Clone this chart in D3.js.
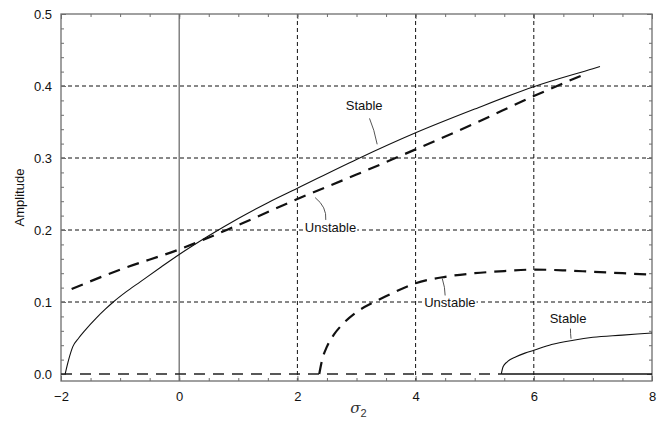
<!DOCTYPE html>
<html>
<head>
<meta charset="utf-8">
<script src="https://cdn.jsdelivr.net/npm/d3@7"></script>
<style>
  html, body { margin: 0; padding: 0; background: #fff; }
  svg { display: block; font-family: "Liberation Sans", Arial, sans-serif; }
</style>
</head>
<body>
<svg id="chart" width="671" height="424"></svg>
<script>
// Frequency-response branches: amplitude vs detuning sigma_2
const xTicks = [-2, 0, 2, 4, 6, 8];
const yTicks = [0.0, 0.1, 0.2, 0.3, 0.4, 0.5];
const xGrid = [2, 4, 6];
const yGrid = [0.1, 0.2, 0.3, 0.4];

// upper stable branch
const stableUpper = [
  [-1.93, 0], [-1.87, 0.02], [-1.8, 0.038], [-1.7, 0.05], [-1.59, 0.061],
  [-1.4, 0.078], [-1.25, 0.09], [-1.115, 0.1], [-0.9, 0.114], [-0.66, 0.128],
  [-0.3, 0.149], [0, 0.166], [0.5, 0.192], [1, 0.216], [1.5, 0.238], [2, 0.258],
  [3, 0.298], [4, 0.335], [5, 0.368], [6, 0.399], [7, 0.424], [7.12, 0.427]
];
// upper unstable branch
const unstableUpper = [
  [-1.82, 0.118], [-1, 0.145], [0, 0.173], [1, 0.207], [2, 0.243], [3, 0.277],
  [4, 0.312], [5, 0.348], [6, 0.386], [6.88, 0.417]
];
// lower unstable branch
const unstableLower = [
  [2.37, 0], [2.42, 0.02], [2.5, 0.038], [2.62, 0.055], [2.75, 0.068],
  [3, 0.086], [3.3, 0.1], [3.6, 0.112], [4, 0.126], [4.5, 0.135], [5, 0.14],
  [5.5, 0.143], [6, 0.145], [6.5, 0.144], [7, 0.142], [7.5, 0.14], [8, 0.138]
];
// lower stable branch
const stableLower = [
  [5.45, 0], [5.48, 0.01], [5.55, 0.017], [5.7, 0.024], [5.85, 0.029],
  [6, 0.033], [6.3, 0.041], [6.67, 0.047], [7, 0.051], [7.5, 0.054], [8, 0.057]
];
// trivial solution a = 0
const trivialUnstable = [[-2, 0], [5.45, 0]];
const trivialStable = [[5.45, 0], [8, 0]];

// annotation labels: text position and curved leader line, all in data units
const labels = [
  { text: "Stable",   at: [3.13, 0.372], from: [3.22, 0.355], to: [3.35, 0.319], bend: [3.3, 0.34] },
  { text: "Unstable", at: [2.56, 0.202], from: [2.48, 0.214], to: [2.3, 0.245], bend: [2.5, 0.232] },
  { text: "Unstable", at: [4.58, 0.098], from: [4.5, 0.109], to: [4.45, 0.133], bend: [4.5, 0.12] },
  { text: "Stable",   at: [6.58, 0.075], from: [6.62, 0.063], to: [6.63, 0.049], bend: [6.62, 0.056] }
];

const svg = d3.select("#chart");
const L = 61, R = 652, T = 14, B = 381;

const x = d3.scaleLinear().domain([-2, 8]).range([L, R]);
const y = d3.scaleLinear().domain([-0.0097, 0.5]).range([B, T]);

const frameColor = "#6e6e6e";

// grid
const grid = svg.append("g");
grid.selectAll(".gx").data(xGrid).join("line")
  .attr("x1", d => x(d)).attr("x2", d => x(d))
  .attr("y1", T).attr("y2", B)
  .attr("stroke", "#111").attr("stroke-width", 1).attr("stroke-dasharray", "4,3");
grid.selectAll(".gy").data(yGrid).join("line")
  .attr("x1", L).attr("x2", R)
  .attr("y1", d => y(d)).attr("y2", d => y(d))
  .attr("stroke", "#111").attr("stroke-width", 1).attr("stroke-dasharray", "4,3");

// vertical axis line at sigma_2 = 0
svg.append("line")
  .attr("x1", x(0)).attr("x2", x(0)).attr("y1", T).attr("y2", B)
  .attr("stroke", frameColor).attr("stroke-width", 1.3);

// axes with inward ticks on all four sides
const xMinor = d3.range(-2, 8.001, 0.5);
const yMinor = d3.range(0, 0.5001, 0.02);
const majorLen = 5, minorLen = 3;

function addAxis(axis, transform) {
  const g = svg.append("g").attr("transform", transform).call(axis);
  g.select(".domain").remove();
  g.selectAll("line").attr("stroke", frameColor);
  return g;
}

const fmtY = d3.format(".1f");
// bottom
addAxis(d3.axisBottom(x).tickValues(xMinor).tickSize(-minorLen).tickFormat(""), `translate(0,${B})`);
const bx = addAxis(d3.axisBottom(x).tickValues(xTicks).tickSize(-majorLen).tickPadding(11)
  .tickFormat(d => d < 0 ? "\u2212" + Math.abs(d) : d), `translate(0,${B})`);
bx.selectAll("text").attr("font-size", 13).attr("fill", "#111")
  .attr("font-family", "Liberation Sans, Arial, sans-serif");
// top
addAxis(d3.axisTop(x).tickValues(xMinor).tickSize(-minorLen).tickFormat(""), `translate(0,${T})`);
addAxis(d3.axisTop(x).tickValues(xTicks).tickSize(-majorLen).tickFormat(""), `translate(0,${T})`);
// left
addAxis(d3.axisLeft(y).tickValues(yMinor).tickSize(-minorLen).tickFormat(""), `translate(${L},0)`);
const ly = addAxis(d3.axisLeft(y).tickValues(yTicks).tickSize(-majorLen).tickPadding(9)
  .tickFormat(fmtY), `translate(${L},0)`);
ly.selectAll("text").attr("font-size", 13).attr("fill", "#111")
  .attr("font-family", "Liberation Sans, Arial, sans-serif");
// right
addAxis(d3.axisRight(y).tickValues(yMinor).tickSize(-minorLen).tickFormat(""), `translate(${R},0)`);
addAxis(d3.axisRight(y).tickValues(yTicks).tickSize(-majorLen).tickFormat(""), `translate(${R},0)`);

// frame
svg.append("rect")
  .attr("x", L).attr("y", T).attr("width", R - L).attr("height", B - T)
  .attr("fill", "none").attr("stroke", frameColor).attr("stroke-width", 1.3);

// branches
const line = d3.line().x(d => x(d[0])).y(d => y(d[1])).curve(d3.curveMonotoneX);
const curves = svg.append("g").attr("fill", "none");

curves.append("path").datum(trivialUnstable).attr("d", line)
  .attr("stroke", "#222").attr("stroke-width", 1.3).attr("stroke-dasharray", "11,8");
curves.append("path").datum(trivialStable).attr("d", line)
  .attr("stroke", "#111").attr("stroke-width", 1.3);

curves.append("path").datum(stableUpper).attr("d", line)
  .attr("stroke", "#111").attr("stroke-width", 1.1);
curves.append("path").datum(unstableUpper).attr("d", line)
  .attr("stroke", "#111").attr("stroke-width", 2.2).attr("stroke-dasharray", "12,8");
curves.append("path").datum(unstableLower).attr("d", line)
  .attr("stroke", "#111").attr("stroke-width", 2.2).attr("stroke-dasharray", "12,8");
curves.append("path").datum(stableLower).attr("d", line)
  .attr("stroke", "#111").attr("stroke-width", 1.1);

// annotations with leader lines; labels sit on a white patch over the grid
const ann = svg.append("g");
labels.forEach(l => {
  ann.append("path")
    .attr("d", `M${x(l.from[0])},${y(l.from[1])} Q${x(l.bend[0])},${y(l.bend[1])} ${x(l.to[0])},${y(l.to[1])}`)
    .attr("fill", "none").attr("stroke", "#555").attr("stroke-width", 1);
  const bg = ann.append("rect").attr("fill", "#fff");
  const t = ann.append("text")
    .attr("x", x(l.at[0])).attr("y", y(l.at[1]))
    .attr("text-anchor", "middle").attr("dominant-baseline", "middle")
    .attr("font-size", 13).attr("fill", "#111")
    .text(l.text);
  const bb = t.node().getBBox();
  bg.attr("x", bb.x - 1).attr("y", bb.y + 1).attr("width", bb.width + 2).attr("height", bb.height - 2);
});

// axis titles
svg.append("text")
  .attr("transform", `translate(24,${(T + B) / 2}) rotate(-90)`)
  .attr("text-anchor", "middle").attr("font-size", 13).attr("fill", "#111")
  .text("Amplitude");

const xt = svg.append("text")
  .attr("x", (L + R) / 2 + 2).attr("y", 413)
  .attr("text-anchor", "middle").attr("fill", "#333");
xt.append("tspan").attr("font-size", 15).attr("font-style", "italic")
  .attr("font-family", "DejaVu Serif, serif").text("\u03C3");
xt.append("tspan").attr("font-size", 11).attr("dy", 4).text("2");
</script>
</body>
</html>
